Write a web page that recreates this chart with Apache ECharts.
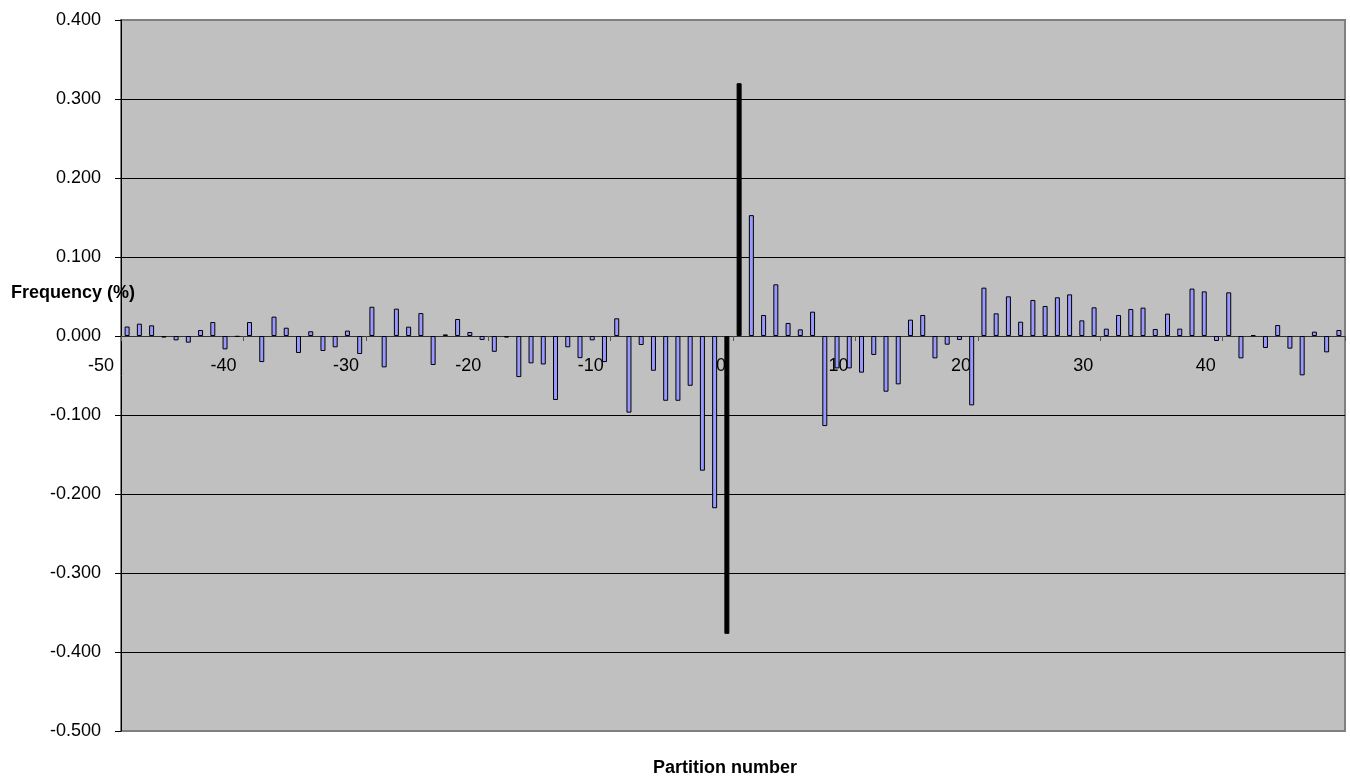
<!DOCTYPE html>
<html>
<head>
<meta charset="utf-8">
<script src="https://cdn.jsdelivr.net/npm/echarts@6/dist/echarts.min.js"></script>
<style>
  html, body { margin: 0; padding: 0; background: #fff; }
  #chart { width: 1350px; height: 778px; }
</style>
</head>
<body>
<div id="chart"></div>
<script>
// partition numbers on the category axis
var partitions = [
  -50, -49, -48, -47, -46, -45, -44, -43, -42, -41,
  -40, -39, -38, -37, -36, -35, -34, -33, -32, -31,
  -30, -29, -28, -27, -26, -25, -24, -23, -22, -21,
  -20, -19, -18, -17, -16, -15, -14, -13, -12, -11,
  -10, -9, -8, -7, -6, -5, -4, -3, -2, -1,
  0, 1, 2, 3, 4, 5, 6, 7, 8, 9,
  10, 11, 12, 13, 14, 15, 16, 17, 18, 19,
  20, 21, 22, 23, 24, 25, 26, 27, 28, 29,
  30, 31, 32, 33, 34, 35, 36, 37, 38, 39,
  40, 41, 42, 43, 44, 45, 46, 47, 48, 49
]

// frequency (%) per partition
var frequency = [
  0.012, 0.0156, 0.0135, -0.002, -0.0055, -0.0084, 0.0076, 0.0177, -0.0169, -0.001,
  0.0177, -0.033, 0.0245, 0.0105, -0.0215, 0.006, -0.019, -0.0143, 0.0068, -0.0228,
  0.037, -0.0397, 0.0346, 0.0118, 0.029, -0.0367, 0.002, 0.0215, 0.005, -0.005,
  -0.020, -0.002, -0.052, -0.0346, -0.036, -0.081, -0.0143, -0.028, -0.0055, -0.033,
  0.0224, -0.097, -0.0114, -0.044, -0.082, -0.082, -0.063, -0.1705, -0.218, -0.377,
  0.320, 0.153, 0.0266, 0.0654, 0.0165, 0.0084, 0.0308, -0.114, -0.041, -0.041,
  -0.0464, -0.024, -0.0705, -0.0612, 0.0207, 0.0266, -0.0283, -0.011, -0.005, -0.0878,
  0.0612, 0.0287, 0.0502, 0.0181, 0.0456, 0.038, 0.049, 0.0527, 0.0198, 0.0363,
  0.0093, 0.0266, 0.0342, 0.0359, 0.0089, 0.0283, 0.0093, 0.060, 0.0565, -0.0063,
  0.0553, -0.0283, 0.001, -0.0152, 0.0139, -0.016, -0.0498, 0.0055, -0.0207, 0.0076
]

// partitions drawn in black
var centralPartitions = [-1, 0]

var font = 'Arial, "Liberation Sans", sans-serif'

var chart = echarts.init(document.getElementById('chart'))
var option = {
  animation: false,
  backgroundColor: '#fff',
  title: [
    {
      text: 'Frequency (%)',
      left: 11,
      top: 284,
      padding: 0,
      textStyle: { fontFamily: font, fontSize: 18, fontWeight: 'bold', color: '#000' }
    },
    {
      text: 'Partition number',
      left: 653,
      top: 759,
      padding: 0,
      textStyle: { fontFamily: font, fontSize: 18, fontWeight: 'bold', color: '#000' }
    }
  ],
  grid: {
    left: 121,
    right: 5,
    top: 20,
    bottom: 47,
    outerBoundsMode: 'none',
    show: true,
    backgroundColor: '#c0c0c0',
    borderColor: '#808080',
    borderWidth: 2
  },
  xAxis: {
    type: 'category',
    data: partitions,
    boundaryGap: true,
    position: 'bottom',
    // move the axis up from the bottom edge to the zero line
    offset: -395,
    axisLine: { show: true, onZero: false, lineStyle: { color: '#333', width: 1 } },
    axisTick: {
      show: true,
      length: 5,
      interval: function (index) { return index % 10 === 0 },
      lineStyle: { color: '#555' }
    },
    axisLabel: {
      interval: function (index) { return index % 10 === 0 },
      align: 'right',
      padding: [0, 13, 0, 0],
      margin: 21,
      fontFamily: font,
      fontSize: 18,
      color: '#000'
    },
    splitLine: { show: false }
  },
  yAxis: {
    type: 'value',
    min: -0.5,
    max: 0.4,
    interval: 0.1,
    axisLine: { show: true, lineStyle: { color: '#000', width: 1 } },
    axisTick: { show: true, length: 6, lineStyle: { color: '#000' } },
    axisLabel: {
      margin: 20,
      fontFamily: font,
      fontSize: 18,
      color: '#000',
      formatter: function (v) { return v.toFixed(3) }
    },
    splitLine: {
      show: true,
      lineStyle: {
        color: ['#808080', '#000', '#000', '#000', '#000', '#000', '#000', '#000', '#000', '#808080'],
        width: 1
      }
    }
  },
  series: [
    {
      name: 'Frequency',
      type: 'bar',
      data: frequency,
      barWidth: 5,
      itemStyle: {
        color: function (p) {
          return centralPartitions.indexOf(partitions[p.dataIndex]) >= 0 ? '#000' : '#9999ff'
        },
        borderColor: '#000',
        borderWidth: 1
      }
    }
  ]
}
chart.setOption(option)
</script>
</body>
</html>
